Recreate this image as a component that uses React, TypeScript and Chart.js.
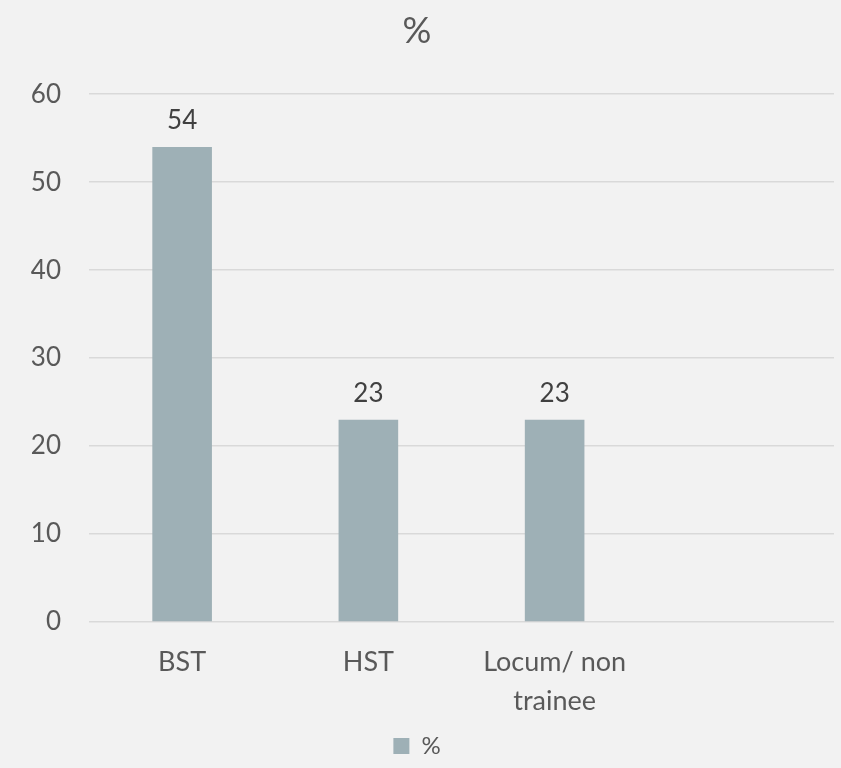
import React, { useEffect, useRef } from "react";
import { Chart, registerables } from "chart.js";

Chart.register(...registerables);

const categories: (string | string[])[] = ["BST", "HST", ["Locum/ non", "trainee"], ""];
const seriesName = "%";
const values: (number | null)[] = [54, 23, 23, null];
const yMin = 0;
const yMax = 60;
const yStep = 10;

const FONT = "Lato, 'Open Sans', sans-serif";

const bgPlugin = {
  id: "bg",
  beforeDraw(chart: any) {
    const { ctx, width, height } = chart;
    ctx.save();
    ctx.fillStyle = "#f2f2f2";
    ctx.fillRect(0, 0, width, height);
    ctx.restore();
  },
};

const labelPlugin = {
  id: "valueLabels",
  afterDatasetsDraw(chart: any) {
    const { ctx } = chart;
    const meta = chart.getDatasetMeta(0);
    ctx.save();
    ctx.fillStyle = "#404040";
    ctx.font = `26px ${FONT}`;
    ctx.textAlign = "center";
    ctx.textBaseline = "middle";
    meta.data.forEach((bar: any, i: number) => {
      const v = values[i];
      if (v === null || v === undefined) return;
      ctx.fillText(String(v), bar.x, bar.y - 26);
    });
    ctx.restore();
  },
};

export default function App() {
  const ref = useRef<HTMLCanvasElement>(null);
  useEffect(() => {
    if (!ref.current) return;
    const chart = new Chart(ref.current, {
      type: "bar",
      data: {
        labels: categories,
        datasets: [
          {
            label: seriesName,
            data: values,
            backgroundColor: "#9eb0b6",
            barPercentage: 0.64,
            categoryPercentage: 0.5,
          },
        ],
      },
      options: {
        animation: false,
        responsive: false,
        maintainAspectRatio: false,
        layout: { padding: { left: 0, right: 7, top: 0, bottom: 0 } },
        plugins: {
          title: {
            display: true,
            text: "%",
            color: "#595959",
            font: { family: FONT, size: 36, weight: "normal" },
            padding: { top: 10, bottom: 41 },
          },
          legend: {
            display: true,
            position: "bottom",
            labels: {
              color: "#595959",
              font: { family: FONT, size: 24 },
              boxWidth: 16,
              boxHeight: 16,
              padding: 6,
            },
          },
          tooltip: { enabled: false },
        },
        scales: {
          x: {
            grid: { display: false },
            border: { display: false },
            ticks: {
              color: "#595959",
              font: { family: FONT, size: 27, lineHeight: 1.45 },
              padding: 13,
              maxRotation: 0,
            },
            afterFit(scale: any) {
              scale.height = 106;
            },
          },
          y: {
            min: yMin,
            max: yMax,
            ticks: {
              stepSize: yStep,
              color: "#595959",
              font: { family: FONT, size: 26 },
              padding: 28,
            },
            grid: { color: "#d9d9d9", lineWidth: 1.5, drawTicks: false },
            border: { display: false },
            afterFit(scale: any) {
              scale.width = 89;
            },
          },
        },
      },
      plugins: [bgPlugin, labelPlugin],
    });
    return () => chart.destroy();
  }, []);
  return (
    <div style={{ position: "fixed", left: 0, top: 0, width: 841, height: 768 }}>
      <canvas ref={ref} width={841} height={768} />
    </div>
  );
}
